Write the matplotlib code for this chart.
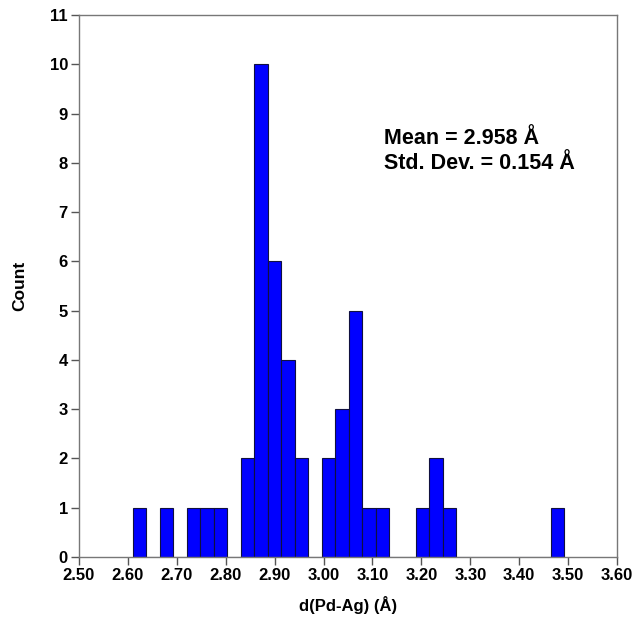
import numpy as np
import matplotlib.pyplot as plt

plt.rcParams['font.family'] = ['Liberation Sans', 'DejaVu Sans']
plt.rcParams['font.weight'] = 'bold'

# histogram of Pd-Ag distances (32 bins)
bin_start = 2.610
bin_width = 0.02757
counts = [1, 0, 1, 0, 1, 1, 1, 0, 2, 10, 6, 4, 2, 0, 2, 3,
          5, 1, 1, 0, 0, 1, 2, 1, 0, 0, 0, 0, 0, 0, 0, 1]
mean_d = 2.958
std_d = 0.154

edges = bin_start + bin_width * np.arange(len(counts))

fig = plt.figure(figsize=(6.36, 6.17), dpi=100)
ax = fig.add_axes([0.1242, 0.0972, 0.8459, 0.8785])

ax.bar(edges, counts, width=bin_width, align='edge',
       color='#0000ff', edgecolor='#101040', linewidth=0.8)

ax.set_xlim(2.50, 3.60)
ax.set_ylim(0, 11)
ax.set_xticks(np.arange(2.50, 3.601, 0.10))
ax.set_xticklabels([f"{t:.2f}" for t in np.arange(2.50, 3.601, 0.10)])
ax.set_yticks(range(0, 12))

for s in ax.spines.values():
    s.set_color('#777777')
    s.set_linewidth(1.0)
ax.tick_params(direction='out', length=6, width=1, color='#555555',
               labelsize=12, pad=2)

ax.set_xlabel("d(Pd-Ag) (Å)", fontsize=12, fontweight='bold', labelpad=9)
ax.set_ylabel("Count", fontsize=12.5, fontweight='bold', labelpad=16)

ax.text(3.124, 8.50, f"Mean = {mean_d:.3f} Å", fontsize=15.5,
        fontweight='bold', va='center')
ax.text(3.124, 7.98, f"Std. Dev. = {std_d:.3f} Å", fontsize=15.5,
        fontweight='bold', va='center')

fig.savefig("out.png", dpi=100)
